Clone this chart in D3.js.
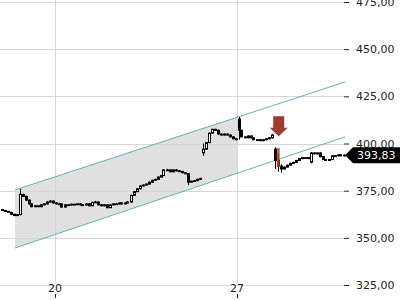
<!DOCTYPE html>
<html lang="en">
<head>
    <meta charset="UTF-8">
    <title>Price Channel Chart</title>
    <script src="https://d3js.org/d3.v7.min.js"></script>
    <style>
        body {
            margin: 0;
            padding: 0;
            background: #fff;
        }
        svg {
            font-family: "DejaVu Sans", sans-serif;
            display: block;
        }
    </style>
</head>
<body>
    <svg width="400" height="300"></svg>

    <script>
        // Candles: [open, high, low, close], one per slot
        const candles = [
            [365, 365.3, 364.2, 364.5], [364.5, 364.8, 363.8, 364.0], [364.0, 364.3, 363.2, 363.5], [363.5, 363.8, 362.2, 362.5],
            [362.5, 362.8, 361.5, 361.8], [361.8, 362.6, 361.5, 362.3], [362.3, 376.0, 362.0, 373.0], [373.0, 373.4, 371.6, 372.0],
            [372.0, 372.3, 369.6, 370.0], [370.0, 370.3, 367.6, 368.0], [368.0, 368.3, 366.2, 366.5], [366.5, 367.4, 366.2, 367.0],
            [367.0, 367.3, 366.2, 366.5], [366.5, 367.8, 366.2, 367.5], [367.5, 368.3, 367.2, 368.0], [368.0, 369.3, 367.7, 369.0],
            [369.0, 369.9, 368.7, 369.5], [369.5, 369.8, 368.2, 368.5], [368.5, 368.8, 367.7, 368.0], [368.0, 368.4, 367.7, 368.0],
            [368.0, 368.3, 366.0, 366.3], [366.3, 367.8, 366.0, 367.5], [367.5, 367.8, 367.2, 367.5], [367.5, 368.1, 367.2, 367.8],
            [367.8, 368.1, 367.3, 367.6], [367.6, 368.3, 367.3, 368.0], [368.0, 368.3, 367.2, 367.5], [367.5, 367.8, 367.1, 367.4],
            [367.4, 368.3, 367.1, 368.0], [368.0, 368.3, 366.7, 367.0], [367.0, 369.1, 366.7, 368.8], [368.8, 369.6, 368.5, 369.0],
            [369.0, 369.3, 367.2, 367.5], [367.5, 367.8, 366.7, 367.0], [367.0, 367.8, 366.7, 367.5], [367.5, 367.8, 365.6, 366.0],
            [366.0, 367.8, 365.7, 367.5], [367.5, 368.3, 367.2, 368.0], [368.0, 368.4, 367.7, 368.0], [368.0, 368.8, 367.7, 368.5],
            [368.5, 368.8, 367.7, 368.0], [368.0, 368.8, 367.7, 368.5], [368.5, 369.3, 368.2, 369.0], [369.0, 372.8, 368.7, 372.5],
            [372.5, 374.8, 372.2, 374.5], [374.5, 376.3, 374.2, 376.0], [376.0, 377.8, 375.7, 377.5], [377.5, 378.3, 377.2, 378.0],
            [378.0, 378.8, 377.7, 378.5], [378.5, 379.8, 378.2, 379.5], [379.5, 380.8, 379.2, 380.5], [380.5, 381.3, 380.2, 381.0],
            [381.0, 382.5, 380.7, 382.2], [382.2, 383.3, 381.9, 383.0], [383.0, 386.3, 382.7, 386.0], [386.0, 386.6, 385.6, 386.0],
            [386.0, 386.3, 384.7, 385.0], [385.0, 386.3, 384.7, 386.0], [386.0, 386.3, 385.2, 385.5], [385.5, 385.8, 384.9, 385.2],
            [385.2, 385.5, 384.2, 384.5], [384.5, 384.8, 383.7, 384.0], [384.0, 384.3, 378.0, 379.5], [379.5, 380.3, 379.2, 380.0],
            [380.0, 380.6, 379.7, 380.3], [380.3, 381.3, 380.0, 381.0], [381.0, 381.8, 380.7, 381.5], [395.0, 400.0, 393.5, 397.0],
            [397.0, 400.8, 396.7, 400.5], [400.5, 405.8, 400.2, 405.5], [405.5, 407.8, 405.2, 407.5], [407.5, 407.8, 406.7, 407.0],
            [407.0, 407.3, 404.7, 405.0], [405.0, 405.3, 404.2, 404.5], [404.5, 405.3, 404.2, 405.0], [405.0, 405.3, 404.2, 404.5],
            [404.5, 404.8, 403.2, 403.5], [403.5, 403.8, 402.2, 402.5], [402.5, 402.8, 401.7, 402.0], [413.0, 414.0, 402.0, 407.0],
            [407.0, 407.3, 403.2, 403.5], [403.5, 403.8, 402.7, 403.0], [403.0, 404.3, 402.7, 404.0], [404.0, 404.3, 402.7, 403.0],
            [403.0, 403.3, 401.7, 402.0], [402.0, 402.4, 401.7, 402.0], [402.0, 402.3, 401.2, 401.5], [401.5, 402.3, 401.2, 402.0],
            [402.0, 402.8, 401.7, 402.5], [402.5, 403.3, 402.2, 403.0], [403.0, 404.8, 402.7, 404.5], [397.0, 398.0, 386.5, 391.0],
            [391.0, 395.0, 385.0, 388.0], [388.0, 389.0, 384.5, 386.5], [386.5, 387.8, 386.2, 387.5], [387.5, 388.8, 387.2, 388.5],
            [388.5, 389.8, 388.2, 389.5], [389.5, 390.3, 389.2, 390.0], [390.0, 391.3, 389.7, 391.0], [391.0, 392.3, 390.7, 392.0],
            [392.0, 392.8, 391.7, 392.5], [392.5, 392.8, 392.2, 392.5], [392.5, 392.8, 391.7, 392.0], [390.0, 395.5, 389.5, 395.0],
            [395.0, 395.3, 394.2, 394.5], [394.5, 395.3, 394.2, 395.0], [395.0, 395.3, 392.7, 393.0], [393.0, 393.3, 391.2, 391.5],
            [391.5, 391.8, 390.7, 391.0], [391.0, 391.8, 390.7, 391.5], [391.5, 393.8, 391.2, 393.5], [393.5, 393.9, 393.2, 393.5],
            [393.5, 394.3, 393.2, 394.0], [394.0, 394.3, 393.2, 393.5], [393.5, 394.1, 393.2, 393.83]
        ];

        const priceTicks = [325, 350, 375, 400, 425, 450, 475];
        const dateTicks = [17.8, 78.5];          // slot positions of the day labels
        const dateLabels = ["20", "27"];

        // Trend channel: [slot, price] endpoints
        const channelUpper = [[4.5, 375.4], [114.5, 432.6]];
        const channelLower = [[4.5, 344.6], [114.5, 403.5]];
        const shadeEnd = 78.5;

        // Sell signal marker
        const signalSlot = 92.4;
        const signalTop = 414.5;
        const signalBottom = 403.8;
        const signalBar = [397.6, 387.5];

        const lastPrice = 393.83;

        const svg = d3.select("svg");
        const plotRight = 344;

        const x = d3.scaleLinear().domain([0, candles.length - 1]).range([1.5, 343.5]);
        const y = d3.scaleLinear().domain([325, 475]).range([285, 2]);

        const locale = d3.formatLocale({ decimal: ",", thousands: ".", grouping: [3], currency: ["", " €"] });
        const fmt = locale.format(".2f");

        // Shaded channel section
        const lineAt = (seg, s) => {
            const [[s0, p0], [s1, p1]] = seg;
            return p0 + (p1 - p0) * (s - s0) / (s1 - s0);
        };
        const s0 = channelUpper[0][0];
        svg.append("path")
            .attr("d", d3.line()([
                [x(s0), y(lineAt(channelUpper, s0))],
                [x(shadeEnd), y(lineAt(channelUpper, shadeEnd))],
                [x(shadeEnd), y(lineAt(channelLower, shadeEnd))],
                [x(s0), y(lineAt(channelLower, s0))]
            ]) + "Z")
            .attr("fill", "#e0e0e0");

        // Grid
        svg.append("g")
            .selectAll("line")
            .data(priceTicks)
            .join("line")
            .attr("x1", 0)
            .attr("x2", plotRight)
            .attr("y1", d => Math.round(y(d)) + 0.5)
            .attr("y2", d => Math.round(y(d)) + 0.5)
            .attr("stroke", "#d6d6d6");

        svg.append("g")
            .selectAll("line")
            .data(dateTicks)
            .join("line")
            .attr("x1", d => Math.round(x(d)) + 0.5)
            .attr("x2", d => Math.round(x(d)) + 0.5)
            .attr("y1", 0)
            .attr("y2", 283)
            .attr("stroke", "#d6d6d6");

        // Channel lines
        [channelUpper, channelLower].forEach(seg => {
            svg.append("line")
                .attr("x1", x(seg[0][0]))
                .attr("y1", y(seg[0][1]))
                .attr("x2", x(seg[1][0]))
                .attr("y2", y(seg[1][1]))
                .attr("stroke", "#6fadb0")
                .attr("stroke-width", 1);
        });

        // Candles
        const cg = svg.append("g");
        cg.selectAll("line")
            .data(candles)
            .join("line")
            .attr("x1", (d, i) => Math.round(x(i)) + 0.5)
            .attr("x2", (d, i) => Math.round(x(i)) + 0.5)
            .attr("y1", d => y(d[1]))
            .attr("y2", d => y(d[2]))
            .attr("stroke", "#000");

        cg.selectAll("rect")
            .data(candles)
            .join("rect")
            .attr("x", (d, i) => Math.round(x(i)) - 0.5)
            .attr("width", 2)
            .attr("y", d => y(Math.max(d[0], d[3])))
            .attr("height", d => Math.max(0.8, Math.abs(y(d[0]) - y(d[3]))))
            .attr("fill", d => d[3] >= d[0] ? "#fff" : "#000")
            .attr("stroke", "#000")
            .attr("stroke-width", 1);

        // Signal bar and arrow
        const sx = x(signalSlot);
        svg.append("rect")
            .attr("x", sx - 2)
            .attr("width", 3)
            .attr("y", y(signalBar[0]))
            .attr("height", y(signalBar[1]) - y(signalBar[0]))
            .attr("fill", "#b3423c")
            .attr("opacity", 0.85);

        const at = y(signalTop), ab = y(signalBottom);
        const neck = at + (ab - at) * 0.58;
        svg.append("path")
            .attr("d", d3.line()([
                [sx - 5.5, at], [sx + 5.5, at], [sx + 5.5, neck], [sx + 9, neck],
                [sx, ab], [sx - 9, neck], [sx - 5.5, neck]
            ]) + "Z")
            .attr("fill", "#9e3b33");

        // Price axis
        const yAxis = svg.append("g")
            .attr("transform", `translate(${plotRight},0)`)
            .call(d3.axisRight(y).tickValues(priceTicks).tickSize(5).tickPadding(7).tickFormat(fmt));
        yAxis.select(".domain").remove();
        yAxis.selectAll("text")
            .attr("font-size", 11)
            .attr("font-family", "DejaVu Sans, sans-serif")
            .attr("fill", "#222");
        yAxis.selectAll(".tick line").attr("stroke", "#222");

        // Date labels
        const xg = svg.append("g");
        xg.selectAll("text")
            .data(dateTicks)
            .join("text")
            .attr("x", d => x(d))
            .attr("y", 292)
            .attr("text-anchor", "middle")
            .attr("font-size", 11)
            .attr("fill", "#222")
            .text((d, i) => dateLabels[i]);
        xg.selectAll("line")
            .data(dateTicks)
            .join("line")
            .attr("x1", d => Math.round(x(d)) + 0.5)
            .attr("x2", d => Math.round(x(d)) + 0.5)
            .attr("y1", 294)
            .attr("y2", 298)
            .attr("stroke", "#222");

        // Last price tag
        const ly = y(lastPrice);
        svg.append("path")
            .attr("d", d3.line()([
                [plotRight + 1, ly], [plotRight + 9, ly - 8], [400, ly - 8],
                [400, ly + 8], [plotRight + 9, ly + 8]
            ]) + "Z")
            .attr("fill", "#000");
        svg.append("text")
            .attr("x", 357)
            .attr("y", ly)
            .attr("dy", "0.35em")
            .attr("font-size", 11)
            .attr("fill", "#fff")
            .text(fmt(lastPrice));
    </script>
</body>
</html>
